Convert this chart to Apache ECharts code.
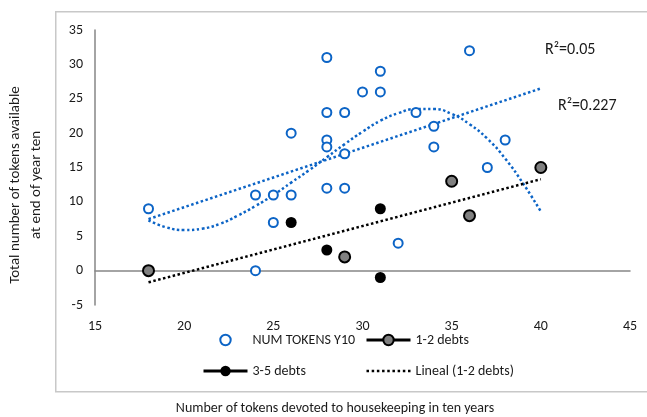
<!DOCTYPE html>
<html>
<head>
<meta charset="utf-8">
<script src="https://cdn.jsdelivr.net/npm/echarts@6/dist/echarts.min.js"></script>
<style>
  html, body { margin: 0; padding: 0; background: #fff; }
  #chart { width: 647px; height: 417px; }
</style>
</head>
<body>
<div id="chart"></div>
<script>
// points, [x, y]
const numTokens = [
  [18, 9], [24, 11], [24, 0], [25, 11], [25, 7], [26, 20], [26, 11],
  [28, 31], [28, 23], [28, 19], [28, 18], [28, 12], [29, 23], [29, 17], [29, 12],
  [30, 26], [31, 29], [31, 26], [32, 4], [33, 23], [34, 21], [34, 18],
  [36, 32], [37, 15], [38, 19]
]
const debts12 = [[18, 0], [29, 2], [35, 13], [36, 8], [40, 15]]
const debts35 = [[26, 7], [28, 3], [31, 9], [31, -1]]

// trendlines as drawn in the picture
const linealDebts12 = [[18, -1.7], [40, 13.3]]
const linealTokens = [[18, 7.5], [40, 26.5]]
const polyTokens = [
  [18, 7.3], [19, 6.3], [20, 5.9], [21, 6.1], [22, 6.8], [23, 8.0], [24, 9.4],
  [25, 11.0], [26, 12.8], [27, 14.6], [28, 16.5], [29, 18.4], [30, 20.2],
  [31, 21.8], [32, 22.9], [33, 23.5], [34, 23.5], [35, 22.8], [36, 21.3],
  [37, 19.2], [38, 16.3], [39, 12.7], [40, 8.6]
]

const xTicks = { min: 15, max: 45, interval: 5 }
const yTicks = { min: -5, max: 35, interval: 5 }

const font = 'Carlito, Lato, "Liberation Sans", sans-serif'
const blue = '#0c64c6'
const txt = '#1a1a1a'

// 9 little squares for the dotted legend icon
let dots = ''
for (let i = 0; i < 9; i++) dots += 'M' + (i * 5) + ',0h2.4v2.4h-2.4z'

const myChart = echarts.init(document.getElementById('chart'))

const option = {
  animation: false,
  textStyle: { fontFamily: font },
  grid: { left: 95, right: 17, top: 30, bottom: 112 },
  xAxis: {
    type: 'value',
    min: xTicks.min,
    max: xTicks.max,
    interval: xTicks.interval,
    axisLine: { onZero: true, lineStyle: { color: '#868686', width: 1.5 } },
    axisTick: { show: false },
    splitLine: { show: false },
    axisLabel: { color: txt, fontSize: 14, margin: 14, fontFamily: font }
  },
  yAxis: {
    type: 'value',
    min: yTicks.min,
    max: yTicks.max,
    interval: yTicks.interval,
    axisLine: { show: true, lineStyle: { color: '#868686', width: 1.5 } },
    axisTick: { show: false },
    splitLine: { show: false },
    axisLabel: { color: txt, fontSize: 14, margin: 12, fontFamily: font }
  },
  legend: [
    {
      left: 197,
      top: 328,
      orient: 'vertical',
      itemGap: 17,
      itemWidth: 44,
      itemHeight: 13,
      textStyle: { color: txt, fontSize: 14, fontFamily: font },
      data: [
        { name: 'NUM TOKENS Y10', lineStyle: { opacity: 0 } },
        { name: '3-5 debts', lineStyle: { opacity: 1, width: 3, color: '#000' } }
      ]
    },
    {
      left: 360,
      top: 328,
      orient: 'vertical',
      itemGap: 17,
      itemWidth: 44,
      itemHeight: 13,
      textStyle: { color: txt, fontSize: 14, fontFamily: font },
      data: [
        { name: '1-2 debts', lineStyle: { opacity: 1, width: 3, color: '#000' } },
        { name: 'Lineal (1-2 debts)', icon: 'path://' + dots, itemStyle: { color: '#000' } }
      ]
    }
  ],
  graphic: [
    // light frame round plot and legend
    {
      type: 'rect',
      left: 55,
      top: 11,
      shape: { width: 640, height: 380 },
      style: { fill: 'rgba(0,0,0,0)', stroke: '#c8c8c8', lineWidth: 1.5 },
      z: 100
    },
    {
      type: 'text',
      x: 26,
      y: 185,
      rotation: Math.PI / 2,
      style: {
        text: 'Total number of tokens available\nat end of year ten',
        font: '15px ' + font,
        fill: txt,
        align: 'center',
        verticalAlign: 'middle',
        lineHeight: 21
      }
    },
    {
      type: 'text',
      x: 335,
      y: 408,
      style: {
        text: 'Number of tokens devoted to housekeeping in ten years',
        font: '14px ' + font,
        fill: txt,
        align: 'center',
        verticalAlign: 'middle'
      }
    },
    {
      type: 'text',
      x: 545,
      y: 50,
      style: { text: 'R²=0.05', font: '16px ' + font, fill: txt, verticalAlign: 'middle' }
    },
    {
      type: 'text',
      x: 558,
      y: 106,
      style: { text: 'R²=0.227', font: '16px ' + font, fill: txt, verticalAlign: 'middle' }
    }
  ],
  series: [
    {
      name: 'poly tokens',
      type: 'line',
      data: polyTokens,
      smooth: true,
      symbol: 'none',
      z: 1,
      lineStyle: { color: blue, width: 2.5, type: [2.5, 2.5] }
    },
    {
      name: 'linear tokens',
      type: 'line',
      data: linealTokens,
      symbol: 'none',
      z: 1,
      lineStyle: { color: blue, width: 2.5, type: [2.5, 2.5] }
    },
    {
      name: 'Lineal (1-2 debts)',
      type: 'line',
      data: linealDebts12,
      symbol: 'none',
      color: '#000',
      z: 1,
      lineStyle: { color: '#000', width: 2.5, type: [2.5, 2.5] }
    },
    {
      name: 'NUM TOKENS Y10',
      type: 'line',
      data: numTokens,
      symbol: 'emptyCircle',
      symbolSize: 9,
      z: 3,
      itemStyle: { color: blue, borderWidth: 2 },
      lineStyle: { opacity: 0 }
    },
    {
      name: '1-2 debts',
      type: 'line',
      data: debts12,
      symbol: 'circle',
      symbolSize: 11,
      z: 3,
      itemStyle: { color: '#808080', borderColor: '#000', borderWidth: 2 },
      lineStyle: { opacity: 0 }
    },
    {
      name: '3-5 debts',
      type: 'line',
      data: debts35,
      symbol: 'circle',
      symbolSize: 11,
      z: 3,
      itemStyle: { color: '#000' },
      lineStyle: { opacity: 0 }
    }
  ]
}

option && myChart.setOption(option)
</script>
</body>
</html>
